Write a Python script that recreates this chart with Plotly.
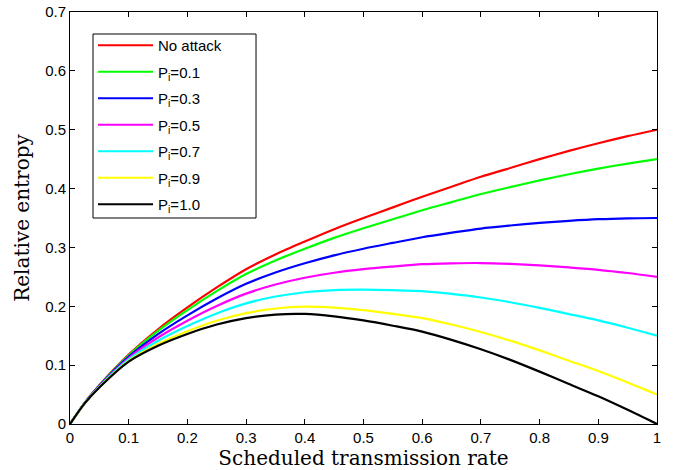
import plotly.graph_objects as go

rate = [0, 0.025, 0.05, 0.1, 0.15, 0.2, 0.25, 0.3, 0.35, 0.4, 0.45, 0.5,
        0.55, 0.6, 0.65, 0.7, 0.75, 0.8, 0.85, 0.9, 0.95, 1.0]

no_attack = [0, 0.036, 0.066, 0.118, 0.161, 0.198, 0.232, 0.263, 0.288, 0.310, 0.331, 0.350,
             0.368, 0.386, 0.403, 0.420, 0.435, 0.450, 0.464, 0.477, 0.489, 0.500]
p01 = [0, 0.036, 0.0656, 0.1168, 0.1582, 0.1935, 0.2257, 0.2547, 0.2778, 0.2977, 0.3162, 0.3326,
       0.3479, 0.3631, 0.377, 0.3907, 0.4024, 0.4139, 0.4244, 0.434, 0.4425, 0.45]
p03 = [0, 0.036, 0.0648, 0.1144, 0.1526, 0.1845, 0.2131, 0.2381, 0.2574, 0.2731, 0.2866, 0.2978,
       0.3077, 0.3173, 0.325, 0.3321, 0.3372, 0.3417, 0.3452, 0.348, 0.3495, 0.35]
p05 = [0, 0.0355, 0.064, 0.112, 0.147, 0.1755, 0.2005, 0.2215, 0.237, 0.2485, 0.257, 0.263,
       0.2675, 0.2715, 0.273, 0.2735, 0.272, 0.2695, 0.266, 0.262, 0.2565, 0.25]
p07 = [0, 0.0353, 0.0632, 0.1096, 0.1414, 0.1665, 0.1879, 0.2049, 0.2166, 0.2239, 0.2274, 0.2282,
       0.2273, 0.2257, 0.221, 0.2149, 0.2068, 0.1973, 0.1868, 0.176, 0.1635, 0.15]
p09 = [0, 0.0351, 0.0624, 0.1072, 0.1358, 0.1575, 0.1753, 0.1883, 0.1962, 0.1993, 0.1978, 0.1934,
       0.1871, 0.1799, 0.169, 0.1563, 0.1416, 0.1251, 0.1076, 0.09, 0.0705, 0.05]
p10 = [0, 0.035, 0.062, 0.106, 0.133, 0.153, 0.169, 0.180, 0.186, 0.187, 0.183, 0.176,
       0.167, 0.157, 0.143, 0.127, 0.109, 0.089, 0.068, 0.047, 0.024, 0.0]

names = ["No attack", "P<sub>i</sub>=0.1", "P<sub>i</sub>=0.3", "P<sub>i</sub>=0.5",
         "P<sub>i</sub>=0.7", "P<sub>i</sub>=0.9", "P<sub>i</sub>=1.0"]
series = [no_attack, p01, p03, p05, p07, p09, p10]
colors = ["#FF0000", "#00FF00", "#0000FF", "#FF00FF", "#00FFFF", "#FFFF00", "#000000"]

x_ticks = [0, 0.1, 0.2, 0.3, 0.4, 0.5, 0.6, 0.7, 0.8, 0.9, 1.0]
x_tick_labels = ["0", "0.1", "0.2", "0.3", "0.4", "0.5", "0.6", "0.7", "0.8", "0.9", "1"]
y_ticks = [0, 0.1, 0.2, 0.3, 0.4, 0.5, 0.6, 0.7]
y_tick_labels = ["0", "0.1", "0.2", "0.3", "0.4", "0.5", "0.6", "0.7"]

fig = go.Figure()
for i, (name, vals, col) in enumerate(zip(names, series, colors)):
    fig.add_trace(go.Scatter(x=rate, y=vals, mode="lines", name=name, legendgroup=f"g{i}",
                             line=dict(color=col, width=2.2, shape="spline", smoothing=0.8)))

axis_common = dict(showline=True, linecolor="black", linewidth=1, mirror="ticks",
                   ticks="inside", ticklen=5, tickcolor="black", tickwidth=1,
                   showgrid=False, zeroline=False, automargin=False,
                   tickfont=dict(family="Liberation Sans, Arial", size=15, color="black"))

title_font = dict(family="DejaVu Serif, serif", size=20, color="black")

# legend frame (MATLAB-style box, wider than the entries)
fig.add_shape(type="rect", xref="paper", yref="paper",
              x0=0.0392, x1=0.3169, y0=0.5, y1=0.9466,
              line=dict(color="black", width=1), fillcolor="white", layer="above")

fig.update_layout(
    template="none",
    width=677, height=470,
    margin=dict(l=70, r=20, t=12, b=46),
    paper_bgcolor="white", plot_bgcolor="white",
    xaxis=dict(range=[0, 1], tickvals=x_ticks, ticktext=x_tick_labels,
               title=dict(text="Scheduled transmission rate", standoff=12, font=title_font),
               **axis_common),
    yaxis=dict(range=[0, 0.7], tickvals=y_ticks, ticktext=y_tick_labels,
               title=dict(text="Relative entropy", standoff=10, font=title_font),
               **axis_common),
    legend=dict(x=0.0392, y=0.9587, xanchor="left", yanchor="top",
                bgcolor="rgba(0,0,0,0)", borderwidth=0,
                tracegroupgap=4, itemwidth=55,
                font=dict(family="Liberation Sans, Arial", size=15, color="black")),
)

fig.write_html("out.html", config={"displayModeBar": False},
               post_script="document.body.style.margin='0';document.body.style.overflow='hidden';")
